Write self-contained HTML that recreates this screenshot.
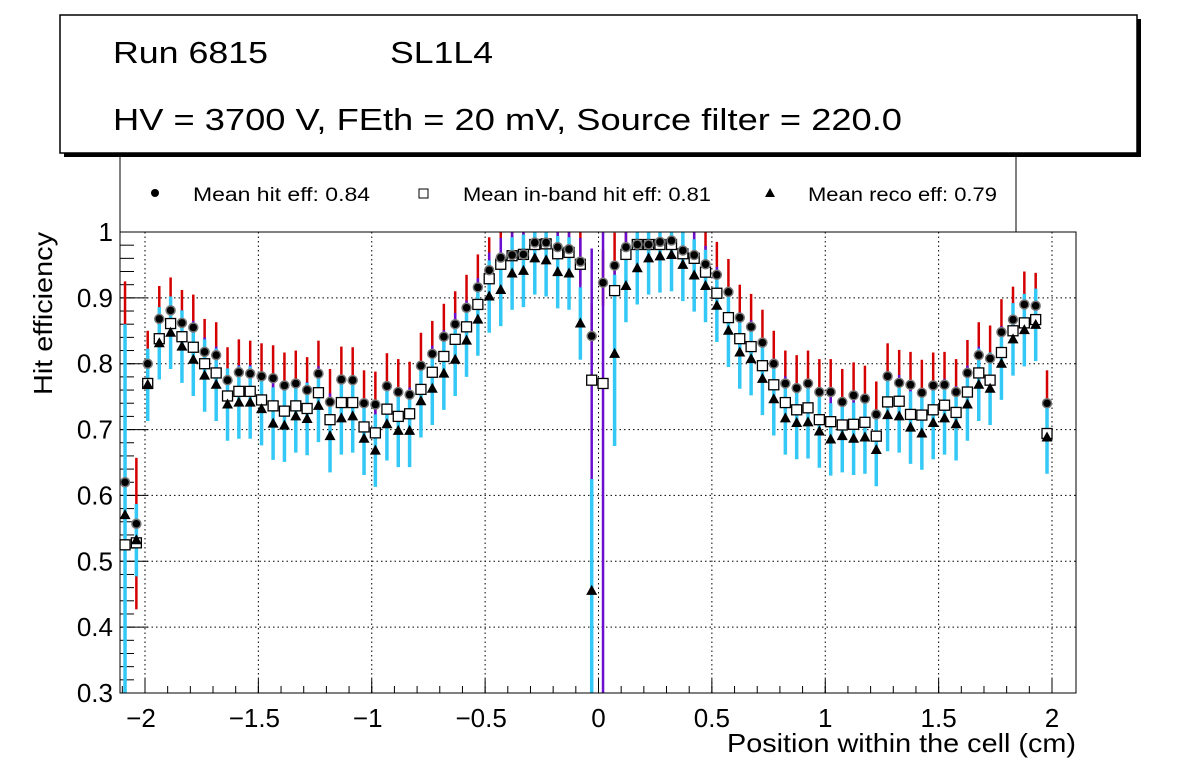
<!DOCTYPE html>
<html><head><meta charset="utf-8"><style>
body{margin:0;background:#fff;width:1196px;height:772px;overflow:hidden;font-family:"Liberation Sans",sans-serif}
</style></head><body>
<svg id="chart" width="1196" height="772" viewBox="0 0 1196 772" xmlns="http://www.w3.org/2000/svg" font-family="Liberation Sans, sans-serif">
<rect x="64" y="19" width="1077" height="138" fill="#000"/>
<rect x="60" y="15" width="1077" height="138" fill="#fff" stroke="#000" stroke-width="1.5"/>
<text x="113" y="63" font-size="31" textLength="155" lengthAdjust="spacingAndGlyphs">Run 6815</text>
<text x="390" y="63" font-size="31" textLength="103" lengthAdjust="spacingAndGlyphs">SL1L4</text>
<text x="113" y="130" font-size="31" textLength="789" lengthAdjust="spacingAndGlyphs">HV = 3700 V, FEth = 20 mV, Source filter = 220.0</text>
<g>
<path d="M120 157 V232 M1016 157 V232" stroke="#000" stroke-width="1"/>
<g><circle cx="155" cy="193" r="4" fill="#000"/><text x="193" y="201" font-size="19" textLength="177" lengthAdjust="spacingAndGlyphs">Mean hit  eff: 0.84</text></g>
<g><rect x="419" y="189" width="9" height="9" fill="#fff" stroke="#000"/><text x="463" y="201" font-size="19" textLength="248" lengthAdjust="spacingAndGlyphs">Mean in-band hit eff: 0.81</text></g>
<g><path d="M770 188 L775 197 L765 197Z" fill="#000"/><text x="808" y="201" font-size="19" textLength="189" lengthAdjust="spacingAndGlyphs">Mean reco eff: 0.79</text></g>
</g>
<g id="grid"></g>
<g id="axes"></g>
<g id="marks"></g>
<rect x="120" y="232" width="956" height="461" fill="none" stroke="#000" stroke-width="1"/>
<text x="52" y="232" font-size="26" text-anchor="end" textLength="163" lengthAdjust="spacingAndGlyphs" transform="rotate(-90 52 232)">Hit efficiency</text>
<text x="1076" y="752" font-size="26" text-anchor="end" textLength="349" lengthAdjust="spacingAndGlyphs">Position within the cell (cm)</text>
</svg>
<script>
const xs=[-2.088,-2.038,-1.988,-1.937,-1.887,-1.837,-1.787,-1.737,-1.686,-1.636,-1.586,-1.536,-1.486,-1.435,-1.385,-1.335,-1.285,-1.235,-1.184,-1.134,-1.084,-1.034,-0.984,-0.933,-0.883,-0.833,-0.783,-0.733,-0.682,-0.632,-0.582,-0.532,-0.482,-0.431,-0.381,-0.331,-0.281,-0.231,-0.180,-0.130,-0.080,-0.030,0.020,0.071,0.121,0.171,0.221,0.271,0.322,0.372,0.422,0.472,0.522,0.573,0.623,0.673,0.723,0.773,0.824,0.874,0.924,0.974,1.024,1.075,1.125,1.175,1.225,1.275,1.326,1.376,1.426,1.476,1.526,1.577,1.627,1.677,1.727,1.777,1.828,1.878,1.928,1.978];
const hitEff=[0.62,0.557,0.80,0.868,0.881,0.862,0.855,0.818,0.813,0.775,0.787,0.785,0.781,0.778,0.767,0.770,0.760,0.785,0.742,0.776,0.775,0.740,0.738,0.766,0.757,0.753,0.797,0.815,0.841,0.86,0.885,0.916,0.942,0.961,0.965,0.966,0.984,0.984,0.977,0.974,0.955,0.842,0.923,0.949,0.977,0.981,0.981,0.985,0.987,0.972,0.965,0.951,0.935,0.909,0.87,0.856,0.832,0.80,0.77,0.763,0.77,0.757,0.757,0.742,0.752,0.747,0.723,0.781,0.771,0.768,0.756,0.767,0.768,0.757,0.786,0.813,0.808,0.848,0.867,0.89,0.888,0.74];
const inBandEff=[0.525,0.528,0.77,0.838,0.861,0.841,0.825,0.80,0.786,0.751,0.758,0.758,0.745,0.736,0.728,0.736,0.732,0.756,0.715,0.741,0.741,0.704,0.695,0.731,0.72,0.724,0.761,0.787,0.811,0.837,0.856,0.89,0.929,0.951,0.964,0.966,0.981,0.982,0.967,0.969,0.951,0.775,0.770,0.911,0.966,0.981,0.981,0.981,0.981,0.967,0.96,0.939,0.907,0.87,0.838,0.826,0.797,0.768,0.741,0.73,0.733,0.715,0.712,0.707,0.708,0.711,0.69,0.742,0.743,0.723,0.722,0.73,0.737,0.726,0.757,0.786,0.775,0.817,0.85,0.862,0.867,0.694];
const recoEff=[0.57,0.532,0.768,0.831,0.847,0.826,0.806,0.782,0.768,0.738,0.741,0.741,0.731,0.709,0.706,0.72,0.716,0.736,0.69,0.717,0.72,0.686,0.668,0.708,0.698,0.698,0.743,0.762,0.785,0.806,0.835,0.867,0.902,0.912,0.937,0.941,0.96,0.957,0.939,0.937,0.861,0.455,null,0.815,0.918,0.945,0.96,0.963,0.965,0.95,0.934,0.918,0.888,0.85,0.817,0.807,0.777,0.746,0.717,0.71,0.711,0.697,0.685,0.69,0.686,0.688,0.669,0.722,0.72,0.703,0.694,0.71,0.717,0.708,0.738,0.768,0.762,0.80,0.837,0.851,0.859,0.688];
const hitErrUp=0.05, hitErrDn=0.035, bandErr=0.04, recoErr=0.055;
const bigErr={hit:{0:[0.305,0.13],1:[0.1,0.13]},band:{41:[0.2,0.6],42:[0.23,0.5]},reco:{0:[0.29,0.3],41:[0.17,0.2],43:[0.12,0.14]}};
const xTicks=[-2,-1.5,-1,-0.5,0,0.5,1,1.5,2];
const xTickLabels=["\u22122","\u22121.5","\u22121","\u22120.5","0","0.5","1","1.5","2"];
const yTicks=[0.3,0.4,0.5,0.6,0.7,0.8,0.9,1];
const yTickLabels=["0.3","0.4","0.5","0.6","0.7","0.8","0.9","1"];

const L=120,R=1076,T=232,B=693;
const X0=-2.1102,X1=2.1058,Y0=0.3,Y1=1.0;
const sx=v=>L+(v-X0)/(X1-X0)*(R-L);
const sy=v=>B-(v-Y0)/(Y1-Y0)*(B-T);
const cl=y=>Math.max(T,Math.min(B,y));
const NS="http://www.w3.org/2000/svg";
function mk(tag,attrs,parent){const e=document.createElementNS(NS,tag);for(const k in attrs)e.setAttribute(k,attrs[k]);parent.appendChild(e);return e;}
const grid=document.getElementById('grid'),axes=document.getElementById('axes'),marks=document.getElementById('marks');
xTicks.forEach((t,i)=>{
  const g=mk('line',{x1:sx(t),x2:sx(t),y1:T,y2:B,stroke:'#000','stroke-dasharray':'1.5 3','stroke-width':1},grid);
  
  
  const tk=mk('line',{x1:sx(t),x2:sx(t),y1:B,y2:B-14,stroke:'#000'},axes);
  
  
  const lb=mk('text',{x:sx(t)-(xTickLabels[i].length>1&&t<0?4:0),y:727,'font-size':26,'text-anchor':'middle'},axes);lb.textContent=xTickLabels[i];
  
  
});
for(let v=-2.1;v<=2.1;v+=0.1){if(v<X0||v>X1)continue;const m=mk('line',{x1:sx(v),x2:sx(v),y1:B,y2:B-7,stroke:'#000'},axes);
  
  }
yTicks.forEach((t,i)=>{
  if(t>0.3&&t<1){const g=mk('line',{x1:L,x2:R,y1:sy(t),y2:sy(t),stroke:'#000','stroke-dasharray':'1.5 3','stroke-width':1},grid);
  
  }
  const tk=mk('line',{x1:L,x2:L+28,y1:sy(t),y2:sy(t),stroke:'#000'},axes);
  
  
  const lb=mk('text',{x:113,y:sy(t)+9,'font-size':26,'text-anchor':'end'},axes);lb.textContent=yTickLabels[i];
  
  
});
for(let v=0.32;v<1;v+=0.02){const m=mk('line',{x1:L,x2:L+14,y1:sy(v),y2:sy(v),stroke:'#000'},axes);
  
  }
function bar(x,v,up,dn,color,w,name){
  const e=mk('line',{x1:x,x2:x,y1:cl(sy(Math.min(1,v+up))),y2:cl(sy(v-dn)),stroke:color,'stroke-width':w},marks);
  
  
}
xs.forEach((xv,i)=>{
  const x=sx(xv);
  const h=bigErr.hit[i]||[hitErrUp,hitErrDn];
  if(hitEff[i]!=null)bar(x,hitEff[i],h[0],h[1],'#d40000',2.5,'hit-error-bar');
  const b=bigErr.band[i]||[bandErr,bandErr];
  if(inBandEff[i]!=null)bar(x,inBandEff[i],b[0],b[1],'#6a0fd0',2.5,'inband-error-bar');
  const r=bigErr.reco[i]||[recoErr,recoErr];
  if(recoEff[i]!=null)bar(x,recoEff[i],r[0],r[1],'#33c8f5',3.5,'reco-error-bar');
});
xs.forEach((xv,i)=>{
  const x=sx(xv);
  if(inBandEff[i]!=null){const s=mk('rect',{x:x-5,y:sy(inBandEff[i])-5,width:10,height:10,fill:'#fff',stroke:'#000','stroke-width':1.3},marks);
  
  }
  if(recoEff[i]!=null){const y=sy(recoEff[i]);const t=mk('path',{d:`M${x} ${y-6} L${x+5.5} ${y+4} L${x-5.5} ${y+4}Z`,fill:'#000'},marks);
  
  }
  if(hitEff[i]!=null){const c=mk('circle',{cx:x,cy:sy(hitEff[i]),r:4.5,fill:'#000',stroke:'#777','stroke-width':1.5},marks);
  
  }
});
</script>
</body></html>
